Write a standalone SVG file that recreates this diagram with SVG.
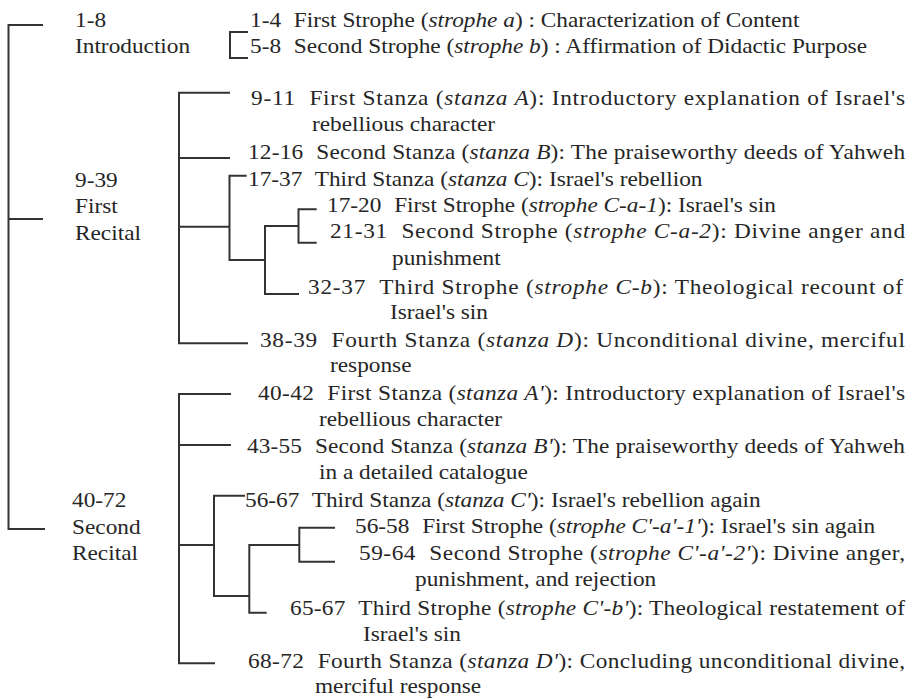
<svg xmlns="http://www.w3.org/2000/svg" width="916" height="699" viewBox="0 0 916 699">
<style>
.t{font-family:"Liberation Serif","Times New Roman",serif;font-size:20px;fill:#262626}
.i{font-style:italic}
#connectors path{fill:none;stroke:#333;stroke-width:2}
</style>
<rect width="916" height="699" fill="#fff"/>
<g id="connectors">
<path d="M43,25 H8.5 V529 H45 M8.5,219 H43"/>
<path d="M248,32 H230 V58 H248"/>
<path d="M230,92.7 H179 V343.3 H248 M179,158 H230 M179,226.7 H229.5"/>
<path d="M246.7,175.7 H229.5 V260 H265"/>
<path d="M298.5,226 H265 V294 H299"/>
<path d="M316.7,209.3 H298.5 V242.7 H316.7"/>
<path d="M231,394 H179 V663.3 H215 M179,445 H231 M179,545 H214"/>
<path d="M245,495.7 H214 V596 H249.3"/>
<path d="M299.3,545 H249.3 V612.7 H266.7"/>
<path d="M335,527.7 H299.3 V561.7 H335"/>
</g>
<g id="introduction">
<text class="t" transform="translate(75 27) scale(1.165 1)">1-8</text>
<text class="t" transform="translate(75 53) scale(1.165 1)">Introduction</text>
</g>
<g id="strophe-a">
<text class="t" transform="translate(250 27) scale(1.165 1)">1-4<tspan dx="6"> First Strophe (</tspan><tspan class="i">strophe a</tspan>) : Characterization of Content</text>
</g>
<g id="strophe-b">
<text class="t" transform="translate(250 53) scale(1.165 1)">5-8<tspan dx="6"> Second Strophe (</tspan><tspan class="i">strophe b</tspan>) : Affirmation of Didactic Purpose</text>
</g>
<g id="first-recital">
<text class="t" transform="translate(75 187) scale(1.165 1)">9-39</text>
<text class="t" transform="translate(75 213) scale(1.165 1)">First</text>
<text class="t" transform="translate(75 240) scale(1.165 1)">Recital</text>
</g>
<g id="stanza-A">
<text class="t" transform="translate(251 105) scale(1.165 1)" textLength="561.4" lengthAdjust="spacing">9-11<tspan dx="6"> First Stanza (</tspan><tspan class="i">stanza A</tspan>): Introductory explanation of Israel's</text>
<text class="t" transform="translate(312 131) scale(1.165 1)">rebellious character</text>
</g>
<g id="stanza-B">
<text class="t" transform="translate(248 159) scale(1.165 1)" textLength="564" lengthAdjust="spacing">12-16<tspan dx="6"> Second Stanza (</tspan><tspan class="i">stanza B</tspan>): The praiseworthy deeds of Yahweh</text>
</g>
<g id="stanza-C">
<text class="t" transform="translate(248 186) scale(1.165 1)">17-37<tspan dx="6"> Third Stanza (</tspan><tspan class="i">stanza C</tspan>): Israel's rebellion</text>
</g>
<g id="strophe-C-a-1">
<text class="t" transform="translate(327 212) scale(1.165 1)">17-20<tspan dx="6"> First Strophe (</tspan><tspan class="i">strophe C-a-1</tspan>): Israel's sin</text>
</g>
<g id="strophe-C-a-2">
<text class="t" transform="translate(330 238) scale(1.165 1)" textLength="493.6" lengthAdjust="spacing">21-31<tspan dx="6"> Second Strophe (</tspan><tspan class="i">strophe C-a-2</tspan>): Divine anger and</text>
<text class="t" transform="translate(392 265) scale(1.165 1)">punishment</text>
</g>
<g id="strophe-C-b">
<text class="t" transform="translate(308 294) scale(1.165 1)" textLength="510.7" lengthAdjust="spacing">32-37<tspan dx="6"> Third Strophe (</tspan><tspan class="i">strophe C-b</tspan>): Theological recount of</text>
<text class="t" transform="translate(390 319) scale(1.165 1)">Israel's sin</text>
</g>
<g id="stanza-D">
<text class="t" transform="translate(260 347) scale(1.165 1)" textLength="553.6" lengthAdjust="spacing">38-39<tspan dx="6"> Fourth Stanza (</tspan><tspan class="i">stanza D</tspan>): Unconditional divine, merciful</text>
<text class="t" transform="translate(330 372) scale(1.165 1)">response</text>
</g>
<g id="second-recital">
<text class="t" transform="translate(72 507) scale(1.165 1)">40-72</text>
<text class="t" transform="translate(72 534) scale(1.165 1)">Second</text>
<text class="t" transform="translate(72 560) scale(1.165 1)">Recital</text>
</g>
<g id="stanza-A-prime">
<text class="t" transform="translate(258 400) scale(1.165 1)" textLength="555.4" lengthAdjust="spacing">40-42<tspan dx="6"> First Stanza (</tspan><tspan class="i">stanza A'</tspan>): Introductory explanation of Israel's</text>
<text class="t" transform="translate(319 426) scale(1.165 1)">rebellious character</text>
</g>
<g id="stanza-B-prime">
<text class="t" transform="translate(247 453) scale(1.165 1)" textLength="564.8" lengthAdjust="spacing">43-55<tspan dx="6"> Second Stanza (</tspan><tspan class="i">stanza B'</tspan>): The praiseworthy deeds of Yahweh</text>
<text class="t" transform="translate(319 479) scale(1.165 1)">in a detailed catalogue</text>
</g>
<g id="stanza-C-prime">
<text class="t" transform="translate(245 507) scale(1.165 1)">56-67<tspan dx="6"> Third Stanza (</tspan><tspan class="i">stanza C'</tspan>): Israel's rebellion again</text>
</g>
<g id="strophe-C-a-1-prime">
<text class="t" transform="translate(355 533) scale(1.165 1)">56-58<tspan dx="6"> First Strophe (</tspan><tspan class="i">strophe C'-a'-1'</tspan>): Israel's sin again</text>
</g>
<g id="strophe-C-a-2-prime">
<text class="t" transform="translate(359 560) scale(1.165 1)" textLength="468.7" lengthAdjust="spacing">59-64<tspan dx="6"> Second Strophe (</tspan><tspan class="i">strophe C'-a'-2'</tspan>): Divine anger,</text>
<text class="t" transform="translate(415 586) scale(1.165 1)">punishment, and rejection</text>
</g>
<g id="strophe-C-b-prime">
<text class="t" transform="translate(290 615) scale(1.165 1)" textLength="527.9" lengthAdjust="spacing">65-67<tspan dx="6"> Third Strophe (</tspan><tspan class="i">strophe C'-b'</tspan>): Theological restatement of</text>
<text class="t" transform="translate(363 641) scale(1.165 1)">Israel's sin</text>
</g>
<g id="stanza-D-prime">
<text class="t" transform="translate(248 668) scale(1.165 1)" textLength="564" lengthAdjust="spacing">68-72<tspan dx="6"> Fourth Stanza (</tspan><tspan class="i">stanza D'</tspan>): Concluding unconditional divine,</text>
<text class="t" transform="translate(315 693) scale(1.165 1)">merciful response</text>
</g>
</svg>
